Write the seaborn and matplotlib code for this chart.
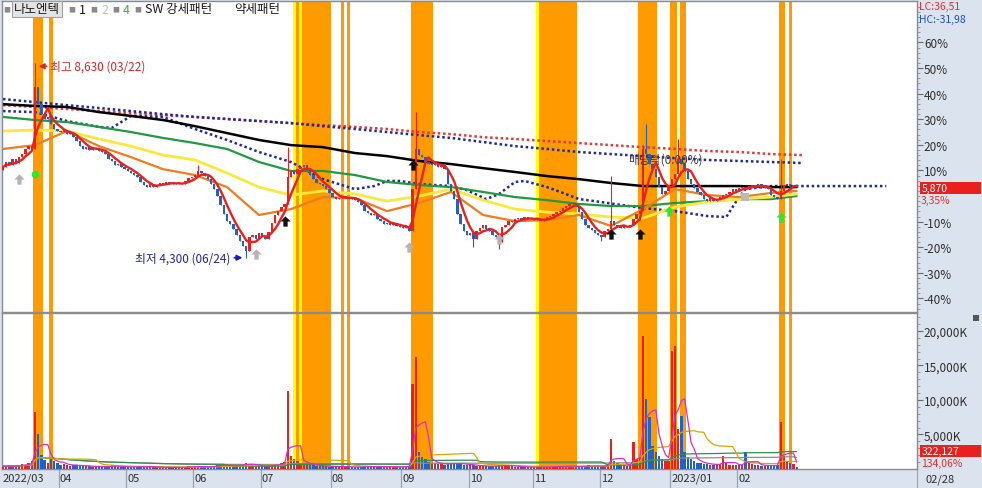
import numpy as np
import pandas as pd
import matplotlib
matplotlib.use('Agg')
import matplotlib.pyplot as plt
import matplotlib.transforms as mtransforms
from matplotlib.path import Path
import seaborn as sns

# ---- data (price in % of base 5,680) ----
close_pct = [
    11.3, 13.3, 12.1, 14.5, 12.9, 15.2, 16.4, 18.4, 19.5, 18.4,
    42.6, 35.9, 32.0, 30.1, 30.9, 28.1, 26.2, 25.4, 25.0, 25.8,
    24.2, 24.6, 23.0, 21.5, 19.5, 18.4, 19.1, 18.0, 18.8, 18.4,
    17.6, 17.2, 16.4, 14.5, 13.7, 12.1, 12.5, 11.3, 10.5, 9.8,
    9.0, 8.2, 7.4, 5.5, 4.3, 3.5, 4.7, 3.5, 4.3, 5.1,
    4.7, 5.5, 4.7, 5.1, 4.7, 5.1, 4.7, 5.9, 7.0, 7.4,
    8.2, 9.8, 9.0, 7.8, 6.6, 4.7, 2.7, 0.0, -3.5, -7.0,
    -9.8, -10.9, -12.9, -15.2, -17.6, -19.5, -21.5, -16.0, -15.2, -16.8,
    -14.5, -15.6, -16.8, -14.1, -10.5, -7.4, -5.9, -4.3, -3.1, 7.4,
    9.8, 8.6, 10.5, 11.3, 12.1, 10.5, 8.2, 6.6, 5.1, 4.7,
    3.9, 2.7, 1.2, -0.4, -1.2, -0.8, -0.4, -0.4, -0.8, -1.2,
    -1.6, -2.3, -3.5, -5.9, -6.6, -7.4, -7.0, -9.0, -9.8, -10.9,
    -10.5, -11.3, -10.5, -11.7, -12.1, -12.5, -12.1, -13.7, 2.7, 18.4,
    16.0, 15.2, 13.3, 12.5, 12.1, 12.9, 11.3, 12.5, 10.5, 4.7,
    2.0, -1.2, -7.0, -10.9, -13.7, -15.2, -14.5, -16.8, -13.7, -12.5,
    -11.3, -12.9, -13.7, -15.2, -16.0, -18.0, -12.1, -11.3, -9.8, -10.2,
    -9.0, -8.6, -9.4, -8.2, -9.0, -8.6, -9.4, -9.0, -9.8, -9.4,
    -8.2, -7.8, -7.0, -6.3, -5.9, -4.7, -3.9, -3.1, -2.7, -3.9,
    -6.3, -9.0, -11.3, -12.5, -13.3, -14.5, -15.2, -16.0, -13.7, -12.9,
    -9.8, -11.3, -12.1, -12.5, -11.7, -12.1, -11.3, -9.0, -7.0, -5.9,
    18.4, 16.4, 12.5, 10.5, 7.4, 3.5, 0.8, 2.0, 4.3, 6.6,
    8.6, 14.5, 12.5, 9.8, 6.6, 4.7, 3.1, 1.6, 0.4, -1.2,
    -2.0, -0.8, -2.0, -1.2, -0.4, 0.4, 0.8, 1.6, 2.7, 2.0,
    3.1, 3.5, 2.7, 3.9, 4.3, 3.5, 4.7, 3.1, 3.9, 2.7,
    0.4, -0.4, -1.2, 2.0, 4.3, 4.7, 3.5, 4.3, 3.35,
]
first_open = 10.0
wick_high = {10: 51.9, 61: 12.0, 89: 19.0, 129: 32.8, 190: 7.8, 200: 20.0,
             201: 28.1, 211: 22.3, 243: 14.5}
wick_low = {76: -24.3, 147: -19.9, 155: -20.7, 187: -17.5}

# volume in thousands of shares
volume_k = [
    420, 380, 510, 350, 460, 600, 720, 650, 800, 1100,
    8270, 5080, 2030, 1300, 900, 1600, 1100, 800, 650, 700,
    560, 480, 520, 610, 450, 400, 380, 420, 350, 330,
    360, 300, 410, 380, 520, 450, 300, 280, 320, 350,
    290, 310, 270, 420, 380, 330, 300, 260, 240, 280,
    250, 230, 270, 220, 240, 260, 230, 300, 380, 350,
    420, 310, 280, 300, 350, 420, 480, 560, 620, 540,
    500, 460, 430, 520, 610, 680, 900, 700, 520, 460,
    430, 410, 450, 520, 600, 680, 700, 820, 950, 11300,
    1900, 1500, 1200, 900, 800, 650, 560, 520, 480, 450,
    400, 380, 360, 420, 380, 350, 330, 300, 320, 290,
    270, 260, 300, 420, 380, 350, 300, 380, 360, 340,
    300, 320, 290, 310, 330, 380, 420, 500, 12300, 16200,
    2500, 1800, 1400, 1000, 900, 800, 700, 750, 650, 820,
    900, 700, 820, 760, 640, 600, 520, 580, 480, 420,
    400, 380, 420, 450, 480, 520, 600, 480, 420, 380,
    350, 330, 300, 280, 260, 250, 280, 300, 350, 330,
    320, 300, 340, 380, 420, 400, 360, 450, 420, 380,
    360, 420, 480, 520, 460, 400, 380, 420, 500, 700,
    4350, 1200, 800, 600, 520, 480, 560, 3900, 1500, 1800,
    19300, 10150, 7540, 3300, 2500, 1900, 1500, 1200, 1100, 17100,
    17800, 5800, 7700, 2500, 1800, 1400, 1100, 900, 800, 750,
    700, 650, 600, 680, 720, 1900, 800, 650, 600, 580,
    560, 620, 2500, 900, 700, 600, 520, 480, 450, 500,
    520, 480, 600, 6800, 1900, 1200, 900, 700, 322,
]

# moving averages, read every 10 trading days
ma_days = [0, 10, 20, 30, 40, 50, 60, 70, 80, 90, 100, 110, 120, 130, 140,
           150, 160, 170, 180, 190, 200, 210, 220, 230, 240, 248]
ma20 = [18.4, 19.9, 25.4, 19.5, 15.2, 10.5, 8.2, 3.5, -7.4, -5.1, -0.4, -0.8, -5.9,
        -2.7, 1.6, -7.4, -9.8, -9.4, -7.4, -11.7, -5.1, 2.7, 0.4, -0.4, 1.2, 2.0]
ma60 = [25.4, 25.8, 25.4, 22.3, 19.5, 16.0, 14.1, 9.0, 3.5, 0.4, 2.0, 0.8, -2.0,
        0.0, 2.7, -1.6, -5.1, -6.3, -7.0, -8.2, -8.6, -4.3, -2.3, -1.2, -0.4, 0.8]
ma120 = [30.9, 29.7, 28.9, 27.0, 25.0, 22.7, 20.7, 18.4, 13.3, 9.8, 9.8, 8.2, 5.5,
         4.3, 3.5, 1.6, -0.4, -1.6, -3.1, -3.9, -3.9, -2.7, -2.0, -1.2, -1.2, 0.0]
ma240 = [35.9, 35.2, 34.8, 32.8, 31.3, 29.7, 27.3, 24.6, 21.9, 19.9, 19.1, 16.8, 15.6,
         13.7, 12.5, 10.9, 9.4, 7.8, 6.6, 5.1, 3.9, 3.9, 3.9, 3.9, 3.5, 3.5]

env_days = [0, 10, 20, 30, 40, 50, 60, 70, 80, 90, 100, 110, 120, 130, 140,
            150, 160, 170, 180, 190, 200, 210, 220, 230, 240, 250]
env_red = [35.5, 34.8, 34.0, 33.2, 32.4, 31.6, 30.9, 30.1, 29.3, 28.5, 27.7, 27.0, 26.2,
           25.0, 24.2, 23.0, 22.3, 21.5, 20.7, 19.9, 19.1, 18.4, 17.6, 17.2, 16.4, 16.0]
env_blue = [37.9, 36.7, 35.5, 34.4, 33.2, 32.0, 30.9, 30.1, 29.3, 28.5, 27.3, 26.2, 25.0,
            23.8, 22.7, 21.1, 19.5, 18.4, 17.2, 16.4, 15.6, 14.8, 14.1, 13.7, 13.3, 12.9]

span_days = [0, 10, 20, 30, 34, 40, 50, 60, 70, 80, 90, 100, 110, 116, 120, 124, 130,
             140, 145, 151, 155, 160, 163, 170, 175, 180, 185, 200, 210, 220, 226,
             229, 232, 240, 276]
span_pct = [33.2, 32.8, 29.3, 27.0, 26.6, 31.3, 30.9, 26.2, 21.9, 17.2, 13.3, 6.6, 2.7,
            3.9, 5.9, 5.9, 4.7, 3.9, 2.3, -1.2, 0.8, 5.5, 5.9, 3.5, 1.2, -1.2, -2.0,
            -4.7, -5.9, -7.8, -8.2, -2.3, 2.7, 3.9, 3.9]

# pattern signal days (first, last)
orange_bands = [(10, 12), (15, 15), (92, 92), (94, 102), (106, 106), (108, 108),
                (128, 134), (168, 179), (199, 204), (209, 210), (212, 213),
                (243, 244), (246, 246)]
yellow_bands = [(91, 91), (93, 93), (167, 167)]

sig_days = [5, 10, 79, 88, 127, 128, 155, 190, 199, 208, 232, 243]
sig_pct = [6.6, 8.6, -22.7, -9.8, -19.9, 12.1, -16.8, -14.8, -14.8, -5.9, -0.4, -8.2]
sig_kind = ['gray', 'dot', 'gray', 'black', 'gray', 'black', 'gray', 'black', 'black',
            'green', 'square', 'green']

month_start = [0, 18, 39, 60, 81, 103, 125, 146, 166, 187, 209, 230]
month_labels = ['2022/03', '04', '05', '06', '07', '08', '09', '10', '11', '12',
                '2023/01', '02']

pct_ticks = [-40, -30, -20, -10, 10, 20, 30, 40, 50, 60]
vol_ticks = [5000, 10000, 15000, 20000]

# ---- style ----
W, H = 982, 489
BG = '#dbe3ee'
RED = '#e8201e'
BLUE = '#1f62c8'
ORANGE_BAND = '#ff9a00'
YELLOW_BAND = '#ffff00'

sns.set_style('white')
plt.rcParams['font.family'] = ['Noto Sans CJK KR', 'DejaVu Sans']


def fx(px):
    return px / W


def fy(py):
    return 1 - py / H


fig = plt.figure(figsize=(W / 100, H / 100), dpi=100, facecolor=BG)
ax = fig.add_axes([fx(2), fy(313), 915 / W, 311 / H], facecolor='white')
axv = fig.add_axes([fx(2), fy(470), 915 / W, 156 / H], facecolor='white', sharex=ax)

days = np.arange(len(close_pct))
close = np.array(close_pct)
opn = np.r_[first_open, close[:-1]]
up = close >= opn
cols = np.where(up, RED, BLUE)
body_lo = np.minimum(opn, close)
body_hi = np.maximum(opn, close)
w_hi = body_hi.copy()
w_lo = body_lo.copy()
for d, v in wick_high.items():
    w_hi[d] = v
for d, v in wick_low.items():
    w_lo[d] = v

# signal bands on both panels
for a in (ax, axv):
    for s, e in orange_bands:
        a.axvspan(s - 0.5, e + 0.5, color=ORANGE_BAND, lw=0, zorder=0)
    for s, e in yellow_bands:
        a.axvspan(s - 0.5, e + 0.5, color=YELLOW_BAND, lw=0, zorder=0)

# moving averages
sns.lineplot(x=env_days, y=env_red, ax=ax, color='#e23a3a', lw=1.8,
             linestyle=(0, (1, 1.1)), zorder=2)
sns.lineplot(x=env_days, y=env_blue, ax=ax, color='#1d2a9c', lw=1.8,
             linestyle=(0, (1, 1.1)), zorder=2)
sns.lineplot(x=span_days, y=span_pct, ax=ax, color='#1d2a9c', lw=1.8,
             linestyle=(0, (1, 1.1)), zorder=2)
sns.lineplot(x=ma_days, y=ma240, ax=ax, color='black', lw=1.8, zorder=2)
sns.lineplot(x=ma_days, y=ma120, ax=ax, color='#1f9a40', lw=1.6, zorder=2)
sns.lineplot(x=ma_days, y=ma60, ax=ax, color='#f7ea3c', lw=2.0, zorder=2)
sns.lineplot(x=ma_days, y=ma20, ax=ax, color='#f07c1e', lw=1.6, zorder=2)

# candles
ax.vlines(days, w_lo, w_hi, colors=cols, lw=0.8, zorder=3)
ax.bar(days, np.maximum(body_hi - body_lo, 0.4), bottom=body_lo, width=0.72,
       color=cols, lw=0, zorder=3)
ma5 = pd.Series(close).rolling(5, min_periods=1).mean()
sns.lineplot(x=days, y=ma5, ax=ax, color=RED, lw=1.7, zorder=4)

# signal markers
arrow = Path([(0, 1), (-1, 0), (-0.42, 0), (-0.42, -1), (0.42, -1), (0.42, 0), (1, 0), (0, 1)])
mk_style = {'gray': (arrow, '#b4b4b4', 55), 'black': (arrow, '#111111', 55),
            'green': (arrow, '#2ee62e', 55), 'dot': ('o', '#2ee62e', 30),
            'square': ('s', '#b9b9b9', 40)}
for d, p, k in zip(sig_days, sig_pct, sig_kind):
    m, c, s = mk_style[k]
    ax.scatter([d], [p], marker=m, color=c, s=s, lw=0, zorder=5)

# high / low annotations
hi_day = int(np.argmax(w_hi))
lo_day = int(np.argmin(w_lo))
ax.annotate('', xy=(hi_day + 0.3, w_hi[hi_day] - 1.2), xytext=(hi_day + 4.5, w_hi[hi_day] - 1.2),
            arrowprops=dict(arrowstyle='-|>', color='#d42828', lw=1.2, mutation_scale=8), zorder=6)
ax.text(hi_day + 4.8, w_hi[hi_day] - 1.2, '최고 8,630 (03/22)', color='#d42828',
        fontsize=8.5, va='center', ha='left', zorder=6)
ax.annotate('', xy=(lo_day - 0.3, w_lo[lo_day] + 0.2), xytext=(lo_day - 4.6, w_lo[lo_day] + 0.2),
            arrowprops=dict(arrowstyle='-|>', color='#1a1ac8', lw=1.2, mutation_scale=8), zorder=6)
ax.text(lo_day - 5.0, w_lo[lo_day] + 0.2, '최저 4,300 (06/24)', color='#1e2a8c',
        fontsize=8.5, va='center', ha='right', zorder=6)
ax.text(195.3, 14.5, '배당락(0.00%)', color='#3c3c50', fontsize=8.5, va='center',
        ha='left', zorder=6)

ax.set_xlim(-0.3, 285.6)
ax.set_ylim(-45.3, 76.2)
ax.yaxis.tick_right()
ax.set_yticks(pct_ticks)
ax.set_yticklabels([f'{t}%' for t in pct_ticks])
ax.set_yticks(np.arange(-44, 76, 2), minor=True)
ax.tick_params(axis='y', which='major', direction='out', length=4, width=0.8,
               color='#6a6a6a', labelcolor='#2f2f2f', labelsize=8.5, pad=1, right=True)
ax.tick_params(axis='y', which='minor', direction='out', length=2, width=0.6,
               color='#8a8a8a', right=True)
ax.tick_params(axis='x', bottom=False, labelbottom=False)
ax.set_xlabel('')
ax.set_ylabel('')

# volume panel
axv.bar(days, volume_k, width=0.72, color=cols, lw=0, zorder=3)
vs = pd.Series(volume_k, dtype=float)
for n, c in [(120, '#8c8c8c'), (60, '#2f8f4f'), (20, '#d8a800'), (5, '#d630c8')]:
    sns.lineplot(x=days, y=vs.rolling(n, min_periods=1).mean(), ax=axv, color=c,
                 lw=0.9, zorder=4)
axv.set_ylim(0, 22600)
axv.yaxis.tick_right()
axv.set_yticks(vol_ticks)
axv.set_yticklabels([f'{t:,}K' for t in vol_ticks])
axv.set_yticks(np.arange(1000, 22600, 1000), minor=True)
axv.tick_params(axis='y', which='major', direction='out', length=4, width=0.8,
                color='#6a6a6a', labelcolor='#2f2f2f', labelsize=8.5, pad=1, right=True)
axv.tick_params(axis='y', which='minor', direction='out', length=2, width=0.6,
                color='#8a8a8a', right=True)
axv.set_xticks([m - 0.5 for m in month_start[1:]] + [285.6])
axv.set_xticklabels([])
axv.tick_params(axis='x', direction='out', length=14, width=0.9, color='#9aa4b2',
                bottom=True)
axv.set_xlabel('')
axv.set_ylabel('')
trans = mtransforms.blended_transform_factory(axv.transData, axv.transAxes)
for m, lab in zip(month_start, month_labels):
    axv.text(m - 0.2, -0.025, lab, transform=trans, fontsize=8, color='#2f2f2f',
             ha='left', va='top', clip_on=False)

for a in (ax, axv):
    for sp in a.spines.values():
        sp.set_color('#8c8c8c')
        sp.set_linewidth(1.0)

# header legend
fig.text(fx(3), fy(10), '■', fontsize=5, color='#8a8a8a', va='center')
fig.text(fx(14), fy(10), '나노엔텍', fontsize=9, color='#1a1a1a', va='center',
         bbox=dict(boxstyle='square,pad=0.15', facecolor='#e4e4e4', edgecolor='#a0a0a0', lw=0.8))
for px, lab, c in [(68, '1', '#1a1a1a'), (90, '2', '#c0c0c0'), (112, '4', '#2ebf2e')]:
    fig.text(fx(px), fy(10), '■', fontsize=5, color='#8a8a8a', va='center')
    fig.text(fx(px + 11), fy(10), lab, fontsize=9, color=c, va='center')
fig.text(fx(134), fy(10), '■', fontsize=5, color='#8a8a8a', va='center')
fig.text(fx(145), fy(10), 'SW 강세패턴', fontsize=9, color='#1a1a1a', va='center')
fig.text(fx(234), fy(10), '약세패턴', fontsize=9, color='#1a1a1a', va='center')

# right axis labels (current price / volume boxes)
for top in (183, 446):
    fig.patches.append(plt.Rectangle((fx(920), fy(top + 12)), 61 / W, 12 / H,
                                     transform=fig.transFigure, facecolor=RED,
                                     edgecolor='none'))
fig.text(fx(919), fy(7), 'LC:36,51', fontsize=7.5, color='#e03030', va='center')
fig.text(fx(919), fy(19.5), 'HC:-31,98', fontsize=7.5, color='#2050c0', va='center')
fig.text(fx(922), fy(189), '5,870', fontsize=7.5, color='white', va='center')
fig.text(fx(921), fy(201), '3,35%', fontsize=7.5, color='#e03030', va='center')
fig.text(fx(922), fy(452), '322,127', fontsize=7.5, color='white', va='center')
fig.text(fx(921), fy(464), '134,06%', fontsize=7.5, color='#e03030', va='center')
fig.text(fx(926), fy(480), '02/28', fontsize=8, color='#2f2f2f', va='center')
fig.patches.append(plt.Rectangle((fx(973), fy(322)), 6 / W, 6 / H, transform=fig.transFigure,
                                 facecolor='#555555', edgecolor='none'))

fig.savefig('out.png', dpi=100, facecolor=BG)
